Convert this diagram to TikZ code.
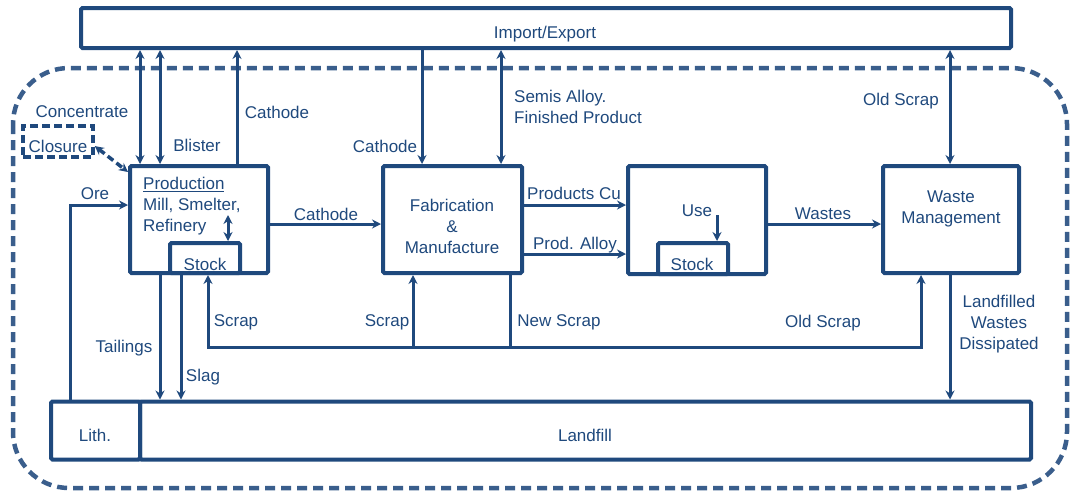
\documentclass[tikz,border=0pt]{standalone}
\usepackage{fontspec}
\setmainfont{Liberation Sans}
\usetikzlibrary{arrows.meta}
\definecolor{dblue}{RGB}{31,73,125}
\definecolor{dashblue}{RGB}{58,94,140}
\begin{document}
\begin{tikzpicture}[x=1pt,y=-1pt,
  every node/.style={text=dblue, font=\fontsize{17}{21}\selectfont},
  box/.style={draw=dblue, line width=4pt, rounded corners=1.5pt, inner sep=0pt, fill=white},
  lbl/.style={inner sep=0pt},
  conn/.style={draw=dblue, line width=3pt, line join=miter},
  arr/.style={conn, -{Stealth[length=9pt,width=9pt,inset=3pt]}},
  dbl/.style={conn, {Stealth[length=9pt,width=9pt,inset=3pt]}-{Stealth[length=9pt,width=9pt,inset=3pt]}},
  dashconn/.style={draw=dblue, line width=3.5pt, dash pattern=on 7pt off 4pt,
     {Stealth[length=9pt,width=9pt,inset=3pt]}-{Stealth[length=9pt,width=9pt,inset=3pt]}}
]
\useasboundingbox (0,0) rectangle (1071,491);
% system boundary
\draw[draw=dashblue, line width=4.5pt, dash pattern=on 10pt off 6pt, rounded corners=56pt]
  (13,68) rectangle (1067,488);

% boxes
\node[box, minimum width=930pt, minimum height=40pt] (imp) at (546,28) {};
\node[lbl] (impl) at (545,34) {Import/Export};
\node[box, minimum width=138pt, minimum height=107pt] (prod) at (199,219.5) {};
\node[box, minimum width=70pt, minimum height=30pt] (pstock) at (205,258) {};
\node[lbl] (pstockl) at (205,264) {Stock};
\node[lbl, align=left, anchor=west] (prodl) at (143,206) {\underline{Production}\\Mill, Smelter,\\Refinery};
\node[box, minimum width=139pt, minimum height=107pt] (fab) at (452.5,219.5) {};
\node[lbl, align=center] (fabl) at (452,226) {Fabrication\\\&\\Manufacture};
\node[box, minimum width=138pt, minimum height=108pt] (use) at (697,220) {};
\node[lbl] (usel) at (697,211) {Use};
\node[box, minimum width=70pt, minimum height=31pt] (ustock) at (693,258.5) {};
\node[lbl] (ustockl) at (692,264) {Stock};
\node[box, minimum width=136pt, minimum height=107pt] (waste) at (951,219.5) {};
\node[lbl, align=center] (wastel) at (951,209) {Waste\\Management};
\node[box, minimum width=891pt, minimum height=58pt] (landfill) at (585.5,430.5) {};
\node[lbl] (landfilll) at (585,435) {Landfill};
\node[box, minimum width=89pt, minimum height=58pt] (lith) at (95.5,430.5) {};
\node[lbl] (lithl) at (95,435) {Lith.};
\node[draw=dblue, line width=3.5pt, dash pattern=on 8pt off 4pt, inner sep=0pt,
      minimum width=70pt, minimum height=31pt] (closure) at (58,141.5) {};
\node[lbl] (closurel) at (58,146) {Closure};

% import / export connectors
\draw[dbl] (imp.south -| 140,0) -- (prod.north -| 140,0);
\draw[dbl] (imp.south -| 160,0) -- (prod.north -| 160,0);
\draw[arr] (prod.north -| 237,0) -- (imp.south -| 237,0);
\draw[arr] (imp.south -| 422,0) -- (fab.north -| 422,0);
\draw[dbl] (imp.south -| 501,0) -- (fab.north -| 501,0);
\draw[dbl] (imp.south -| 950,0) -- (waste.north -| 950,0);
\draw[dashconn] (closure.east |- 0,146) -- (prod.west |- 0,172);

% production flows
\draw[arr] (lith.north -| 70,0) |- (prod.west |- 0,205);
\draw[arr] (prod.south -| 160,0) -- (landfill.north -| 160,0);
\draw[arr] (pstock.south -| 181,0) -- (landfill.north -| 181,0);
\coordinate (ptop) at (228,215);
\draw[dbl] (ptop) -- (pstock.north -| ptop);
\draw[arr] (prod.east |- 0,224) -- (fab.west |- 0,224);
\draw[arr] (fab.east |- 0,205) -- (use.west |- 0,205);
\draw[arr] (fab.east |- 0,254) -- (use.west |- 0,254);
\coordinate (usetop) at (717,215);
\draw[arr] (usetop) -- (ustock.north -| usetop);
\draw[arr] (use.east |- 0,224) -- (waste.west |- 0,224);
\draw[arr] (waste.south -| 950,0) -- (landfill.north -| 950,0);

% scrap loop
\coordinate (jl) at (208,347);
\coordinate (jm) at (413,347);
\coordinate (jn) at (510,347);
\coordinate (jr) at (921,347);
\draw[arr] (jm) -- (jl) -- (pstock.south -| jl);
\draw[arr] (jm) -- (jr) -- (waste.south -| jr);
\draw[arr] (jm) -- (fab.south -| jm);
\draw[conn] (fab.south -| jn) -- (jn);

% labels
\node[lbl] (lconc) at (82,112) {Concentrate};
\node[lbl] (lblis) at (197,145) {Blister};
\node[lbl] (lcath1) at (277,112) {Cathode};
\node[lbl] (lcath2) at (385,146) {Cathode};
\node[lbl, align=left, anchor=west] (lsemis) at (514,107) {Semis Alloy.\\Finished Product};
\node[lbl] (loldtop) at (901,101) {Old Scrap};
\node[lbl] (lore) at (95,194) {Ore};
\node[lbl] (lcath3) at (326,214) {Cathode};
\node[lbl] (lprodcu) at (574,193) {Products Cu};
\node[lbl] (lprodal) at (575,245) {Prod. Alloy};
\node[lbl] (lwastes) at (823,214) {Wastes};
\node[lbl, align=center] (llandf) at (999,324) {Landfilled\\Wastes\\Dissipated};
\node[lbl] (ltail) at (124,348) {Tailings};
\node[lbl] (lslag) at (203,377) {Slag};
\node[lbl] (lscrap1) at (236,322) {Scrap};
\node[lbl] (lscrap2) at (387,322) {Scrap};
\node[lbl] (lnew) at (559,322) {New Scrap};
\node[lbl] (loldbot) at (823,323) {Old Scrap};
\end{tikzpicture}
\end{document}
